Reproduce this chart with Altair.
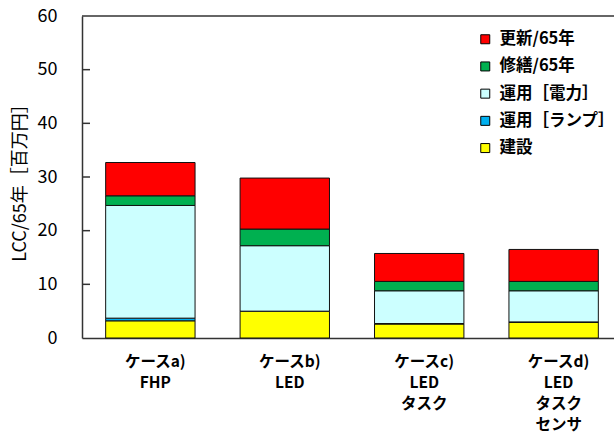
import altair as alt
import pandas as pd

# Cases (x categories); "|" separates label lines
cases = ["ケースa)|FHP", "ケースb)|LED", "ケースc)|LED|タスク", "ケースd)|LED|タスク|センサ"]

# Cost components, bottom of the stack first
components = ["建設", "運用［ランプ］", "運用［電力］", "修繕/65年", "更新/65年"]
colors = ["#FFFF00", "#00B0F0", "#CCFFFF", "#00B050", "#FF0000"]

# LCC per 65 years [million yen], one list per component (cases a-d)
kensetsu = [3.2, 5.0, 2.6, 2.9]
unyo_lamp = [0.5, 0.0, 0.1, 0.1]
unyo_denryoku = [21.0, 12.2, 6.1, 5.8]
shuzen = [1.8, 3.1, 1.75, 1.75]
koshin = [6.2, 9.5, 5.2, 5.95]

y_ticks = [10, 20, 30, 40, 50]

series = [kensetsu, unyo_lamp, unyo_denryoku, shuzen, koshin]
rows = []
for ci, (name, vals) in enumerate(zip(components, series)):
    for case, v in zip(cases, vals):
        rows.append({"case": case, "component": name, "value": v, "order": ci})
df = pd.DataFrame(rows)

legend_order = components[::-1]
legend_colors = colors[::-1]

FONT = "Noto Sans CJK JP"

bars = alt.Chart(df).mark_bar(stroke="#111111", strokeWidth=1).encode(
    x=alt.X(
        "case:N",
        sort=cases,
        scale=alt.Scale(range=[0, 540], paddingInner=0.335, paddingOuter=0.176),
        axis=alt.Axis(
            title=None,
            labelAngle=0,
            ticks=False,
            labelPadding=16,
            labelOffset=5,
            labelFont=FONT,
            labelFontSize=15.5,
            labelFontWeight="bold",
            labelColor="#000000",
            labelLineHeight=21.3,
            labelExpr="split(datum.label, '|')",
            domainColor="#333333",
            domainWidth=1.5,
        ),
    ),
    y=alt.Y(
        "value:Q",
        stack="zero",
        scale=alt.Scale(domain=[0, 60], nice=False),
        axis=alt.Axis(
            title="LCC/65年［百万円］",
            values=[0, 10, 20, 30, 40, 50, 60],
            grid=False,
            ticks=False,
            labelPadding=25,
            labelFont=FONT,
            labelFontSize=18,
            labelColor="#000000",
            titleFont=FONT,
            titleFontSize=18,
            titleFontWeight="normal",
            titleColor="#000000",
            titleX=-62,
            titleY=162,
            titleAngle=-90,
            titleAlign="center",
            titleBaseline="middle",
            domainColor="#333333",
            domainWidth=1.5,
        ),
    ),
    color=alt.Color(
        "component:N",
        scale=alt.Scale(domain=legend_order, range=legend_colors),
        legend=alt.Legend(
            title=None,
            orient="none",
            legendX=395,
            legendY=15,
            padding=0,
            symbolType="square",
            symbolSize=81,
            symbolStrokeColor="#000000",
            symbolStrokeWidth=1,
            symbolOpacity=1,
            labelFont=FONT,
            labelFontSize=16.5,
            labelFontWeight="bold",
            labelColor="#000000",
            labelOffset=6,
            labelLimit=200,
            rowPadding=10.2,
        ),
    ),
    order=alt.Order("order:Q", sort="ascending"),
)

# inward tick marks on the value axis
ticks = alt.Chart(pd.DataFrame({"v": y_ticks})).mark_rule(
    color="#333333", strokeWidth=1.5
).encode(
    y=alt.Y("v:Q"),
    x=alt.value(0),
    x2=alt.value(8),
)

# top edge of the plot frame
top_edge = alt.Chart(pd.DataFrame({"v": [60]})).mark_rule(
    color="#333333", strokeWidth=1.5
).encode(y=alt.Y("v:Q"))

chart = alt.layer(bars, ticks, top_edge).properties(
    width=532,
    height=322,
    padding={"left": 82, "top": 16, "right": 0, "bottom": 97},
    autosize=alt.AutoSizeParams(type="none"),
    background="white",
).configure_view(stroke=None)

chart.save("out.html", embed_options={"renderer": "svg", "actions": False})
